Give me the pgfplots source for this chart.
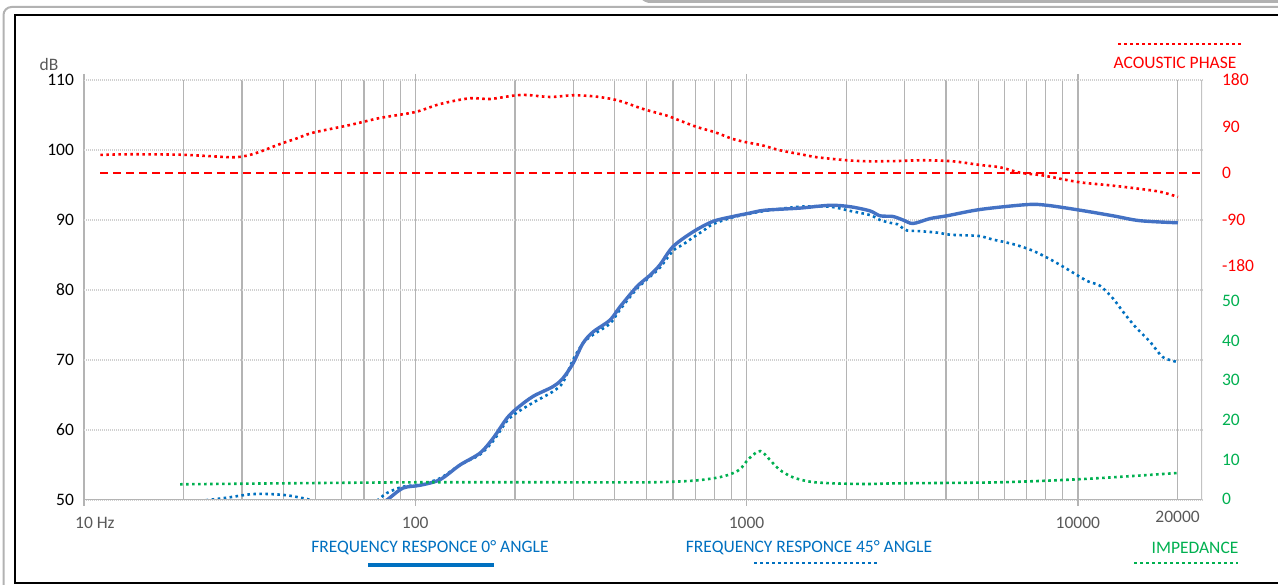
\documentclass[border=0pt]{standalone}
\usepackage{fontspec}
\setmainfont{Carlito}
\usepackage{pgfplots}
\pgfplotsset{compat=1.18}
\pgfkeys{/pgf/number format/assume math mode=true}

\definecolor{blueA}{HTML}{4472C4}
\definecolor{blueB}{HTML}{0070C0}
\definecolor{phasered}{HTML}{FF0000}
\definecolor{impgreen}{HTML}{00B050}
\definecolor{gridgray}{HTML}{B4B4B4}
\definecolor{hgrid}{HTML}{D0D0D0}
\definecolor{labelgray}{HTML}{595959}

\tikzset{sqdot/.style={dash pattern=on 2.6pt off 3.4pt, line width=2.6pt}}

\begin{document}
\fontsize{17.5}{20}\selectfont
\begin{tikzpicture}[x=1pt,y=1pt]
\useasboundingbox (0,0) rectangle (1278,585);
\clip (0,0) rectangle (1278,585);
% window frames
\draw[gray!60, line width=2pt, rounded corners=8pt] (3.5,-20) -- (3.5,578) -- (1300,578);
\draw[gray!60, line width=3pt, rounded corners=5pt] (640,590) -- (645,583.5) -- (1300,583.5);
\draw[black, line width=2pt] (15,2) rectangle (1300,570);

% dB axis
\begin{axis}[
  at={(84pt,85pt)}, anchor=south west,
  width=1118pt, height=420pt, scale only axis,
  xmode=log, xmin=10, xmax=23700,
  ymin=50, ymax=110,
  axis line style={draw=none},
  tick label style={font=\fontsize{17.5}{20}\selectfont},
  ytick={50,60,...,110},
  xtick={10,100,1000,10000},
  xticklabels={10\rlap{ Hz},100,1000,10000},
  extra x ticks={20000}, extra x tick labels={20000},
  extra x tick style={major tick length=0pt},
  minor xtick={20,30,40,50,60,70,80,90,200,300,400,500,600,700,800,900,2000,3000,4000,5000,6000,7000,8000,9000},
  xmajorgrids, xminorgrids, ymajorgrids,
  major x grid style={gridgray, line width=1.2pt},
  minor x grid style={gridgray, line width=1.2pt},
  major y grid style={hgrid, line width=1.2pt, dash pattern=on 1pt off 1pt},
  xtick style={gridgray, line width=1.2pt},
  major tick length=6pt, minor tick length=0pt, tick align=outside,
  ytick style={draw=none},
  xticklabel style={labelgray, yshift=-5pt},
  yticklabel style={black, xshift=2pt},
]
% 45 degree response
\addplot[blueB, sqdot, smooth] coordinates {
(15,47.5) (20,49.5) (22.4,49.86) (27.0,50.33) (31.7,50.81) (35.7,50.86)
(41.0,50.67) (47.1,50.14) (49.1,49.86) (55,49.3) (65,49.0) (72,49.3)
(76.6,49.9) (82.1,51.0) (91.8,51.9) (103.3,52.2) (118.7,53.1) (136.4,55.0)
(156.8,56.5) (171.6,58.4) (189.2,61.3) (202.8,62.5) (226.6,63.9) (260.4,65.5)
(279.1,66.8) (299.2,70.0) (320.8,72.4) (343.9,73.6) (387,75.2) (414.9,77.2)
(466.9,80.2) (511,81.9) (547.7,83.2) (599.7,85.6) (643,86.5) (689,87.5)
(742,88.5) (791.6,89.4) (909.9,90.4) (1024,90.9) (1137,91.3)
(1449,91.9) (1785,91.9) (2052,91.3) (2358,90.7) (2528,90.0) (2710,89.6)
(2850,89.4) (2966,88.8) (3050,88.5) (3337,88.4) (3755,88.2) (4111,87.9)
(4626,87.8) (5064,87.7) (5542,87.2) (5940,86.9) (6549,86.4) (7319,85.6)
(8236,84.4) (9271,83.0) (10650,81.3) (11660,80.6) (12760,78.8) (13680,76.9)
(14870,74.8) (16510,72.6) (18070,70.4) (20050,69.7)
};
% 0 degree response
\addplot[blueA, line width=3.4pt, smooth] coordinates {
(75,48.8) (82.1,50.0) (91.8,51.7) (103.3,52.1) (118.7,52.9) (136.4,55.0)
(156.8,56.7) (171.6,58.8) (189.2,61.7) (202.8,63.1) (226.6,64.8) (260.4,66.2)
(279.1,67.4) (299.2,69.5) (320.8,72.4) (343.9,74.0) (387,75.7) (414.9,77.6)
(466.9,80.5) (511,82.1) (547.7,83.6) (599.7,86.2) (689,88.3) (791.6,89.8)
(909.9,90.5) (1024,91.0) (1137,91.4)
(1449,91.7) (1785,92.1) (2052,91.9) (2358,91.3) (2528,90.6) (2766,90.5)
(2966,90.0) (3180,89.5) (3578,90.2) (4026,90.6) (5064,91.5) (7022,92.2)
(8067,92.1) (10150,91.4) (12760,90.6) (15390,89.9) (20050,89.6)
};
\draw[gridgray, line width=1.5pt] (rel axis cs:0,0) -- (rel axis cs:1,0);
\draw[gridgray!80, line width=2pt] (rel axis cs:1,0) -- (rel axis cs:1,1);
\end{axis}

% phase axis
\begin{axis}[
  at={(84pt,85pt)}, anchor=south west,
  width=1118pt, height=420pt, scale only axis,
  xmode=log, xmin=10, xmax=23700,
  ymin=-632.9, ymax=180,
  axis line style={draw=none},
  tick label style={font=\fontsize{17.5}{20}\selectfont},
  hide x axis,
  yticklabel pos=right,
  ytick={-180,-90,0,90,180},
  yticklabels={-180,-90,0,90,180},
  ytick style={draw=none},
  yticklabel style={phasered, anchor=west, xshift=14pt},
]
\addplot[phasered, line width=2.2pt, dash pattern=on 8pt off 5pt] coordinates {
(11.2,0) (23700,0)
};
\addplot[phasered, sqdot, smooth] coordinates {
(11.2,35) (13.8,36.2) (19.5,35.4) (23.5,32.9) (28.2,30.4) (31.0,33.5)
(34.0,41.2) (39.1,56.1) (44.0,67.2) (49.1,78.0) (63.5,92.9) (78.2,106.4)
(100,118) (118.8,133.5) (146,144.6) (168,143.2) (197,149.6) (217,151)
(255,147.1) (299,150.4) (344,148.5) (387,143.8) (421,138) (477,125.8)
(511,120) (579,110.3) (630,101.2) (708,89) (803,78.8) (903,66.4) (989,60)
(1113,53.6) (1261,43.9) (1480,35.4) (1632,30.4) (2010,24.6) (2358,22.6)
(2864,23.2) (3408,24.6) (4198,22.6) (5064,15.5) (5821,11) (6688,0.6)
(7683,-3.9) (8411,-8.4) (10150,-18.1) (12240,-23.3) (14670,-29.1)
(17690,-36.3) (20050,-46.5)
};
\end{axis}

% impedance axis
\begin{axis}[
  at={(84pt,85pt)}, anchor=south west,
  width=1118pt, height=420pt, scale only axis,
  xmode=log, xmin=10, xmax=23700,
  ymin=-0.25, ymax=105.8,
  axis line style={draw=none},
  tick label style={font=\fontsize{17.5}{20}\selectfont},
  hide x axis,
  yticklabel pos=right,
  ytick={0,10,...,50},
  ytick style={draw=none},
  yticklabel style={impgreen, anchor=west, xshift=14pt},
]
\addplot[impgreen, sqdot, smooth] coordinates {
(19.5,3.71) (39.9,3.96) (101.2,4.22) (255,4.22) (511,4.22) (689,4.62)
(814,5.38) (891,6.24) (955,7.5) (1011,10.0) (1075,11.9) (1100,12.1)
(1123,11.7) (1177,9.85) (1261,7.32) (1380,5.48) (1554,4.37) (1823,3.96)
(2309,3.79) (2904,3.96) (5821,4.22) (9938,4.97) (14670,5.81) (19360,6.49)
(20050,6.6)
};
\end{axis}

% titles and legend
\node[labelgray] at (49,521) {dB};
\draw[phasered, sqdot] (1118,541) -- (1243,541);
\node[phasered] at (1175,522) {ACOUSTIC PHASE};
\node[blueB] at (430,37) {FREQUENCY RESPONCE 0° ANGLE};
\draw[blueB, line width=4pt] (368,20) -- (494,20);
\node[blueB] at (809,37) {FREQUENCY RESPONCE 45° ANGLE};
\draw[blueB, sqdot] (754,22) -- (878,22);
\node[impgreen] at (1195,37) {IMPEDANCE};
\draw[impgreen, sqdot] (1134,22) -- (1238,22);
\end{tikzpicture}
\end{document}
